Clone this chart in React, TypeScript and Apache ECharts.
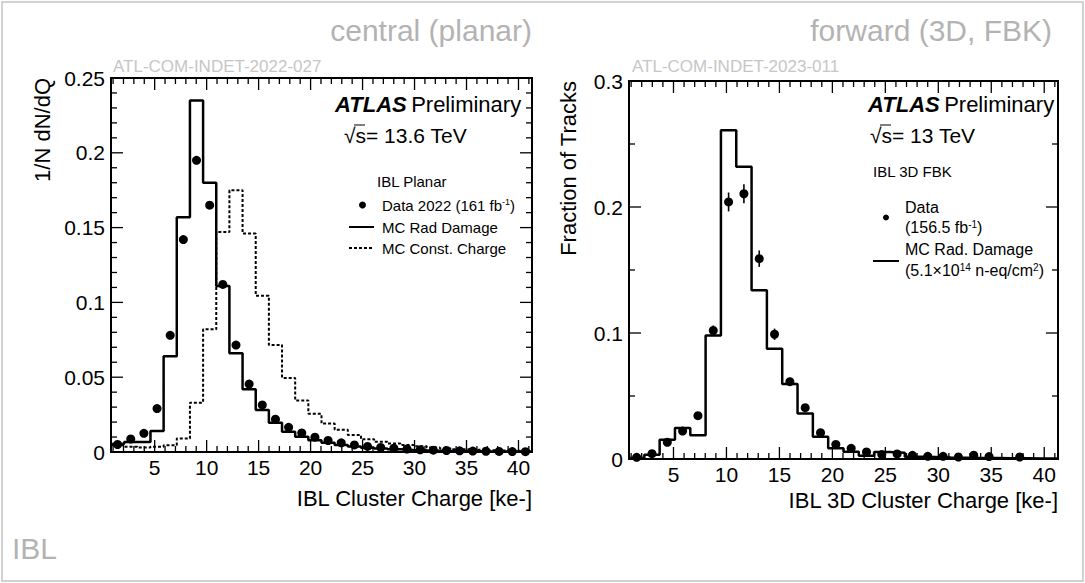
import { useEffect, useRef } from "react";
import * as echarts from "echarts";

const FONT = "'Liberation Sans', Arial, Helvetica, sans-serif";
const X_MIN = 0.8;
const X_MAX = 41.3;

// ---- Left panel: IBL planar (32 bins) ----
const planarData = [0.005, 0.0087, 0.0125, 0.029, 0.078, 0.142, 0.195, 0.165, 0.112, 0.0715, 0.0454, 0.0315, 0.0219, 0.0165, 0.0127, 0.0099, 0.0077, 0.0061, 0.0047, 0.0037, 0.003, 0.0025, 0.002, 0.0015, 0.0012, 0.001, 0.0008, 0.0006, 0.0005, 0.0004, 0.0003, 0.0002];
const planarMcRad = [0.0054, 0.0067, 0.0067, 0.014, 0.064, 0.157, 0.235, 0.18, 0.111, 0.066, 0.042, 0.028, 0.0195, 0.0136, 0.0102, 0.0078, 0.0062, 0.0047, 0.0037, 0.0029, 0.0023, 0.0018, 0.0014, 0.0011, 0.0009, 0.0007, 0.0006, 0.0005, 0.0004, 0.0003, 0.0003, 0.0002];
const planarMcConst = [0.0045, 0.0035, 0.003, 0.0035, 0.0045, 0.009, 0.033, 0.082, 0.147, 0.175, 0.146, 0.1045, 0.0715, 0.0495, 0.0345, 0.0255, 0.019, 0.0148, 0.0114, 0.0085, 0.0068, 0.0056, 0.0046, 0.0038, 0.003, 0.0024, 0.0019, 0.0015, 0.0012, 0.001, 0.0008, 0.0006];

// ---- Right panel: IBL 3D FBK (28 bins) ----
const fbkData = [0.0013, 0.0042, 0.0133, 0.0222, 0.0344, 0.102, 0.204, 0.2105, 0.159, 0.099, 0.0614, 0.0407, 0.0209, 0.0115, 0.0085, 0.0056, 0.0035, 0.004, 0.0029, 0.0021, 0.0021, 0.0016, 0.003, 0.0019, null, 0.0016, null, null];
const fbkDataErr = [0, 0, 0.001, 0.0015, 0.002, 0.004, 0.0075, 0.0075, 0.0065, 0.0045, 0.003, 0.002, 0.0015, 0.001, 0.001, 0, 0, 0, 0, 0, 0, 0, 0, 0, 0, 0, 0, 0];
const fbkMcRad = [0.0008, 0.0034, 0.0153, 0.0246, 0.0188, 0.098, 0.261, 0.232, 0.134, 0.0875, 0.0595, 0.0362, 0.0177, 0.0085, 0.0058, 0.0025, 0.0055, 0.005, 0.0018, 0.0015, 0.0012, 0.001, 0.0008, 0.0007, 0.0006, 0.0005, 0.0004, 0.0004];

// ---- Ticks / labels ----
const xTickLabels = [5, 10, 15, 20, 25, 30, 35, 40];
const xMinorTicks = [1, 2, 3, 4, 6, 7, 8, 9, 11, 12, 13, 14, 16, 17, 18, 19, 21, 22, 23, 24, 26, 27, 28, 29, 31, 32, 33, 34, 36, 37, 38, 39, 41];
const planarYMajor = [0, 0.05, 0.1, 0.15, 0.2, 0.25];
const planarYMinor = [0.01, 0.02, 0.03, 0.04, 0.06, 0.07, 0.08, 0.09, 0.11, 0.12, 0.13, 0.14, 0.16, 0.17, 0.18, 0.19, 0.21, 0.22, 0.23, 0.24];
const fbkYMajor = [0, 0.1, 0.2, 0.3];
const fbkYMinor = [0.05, 0.15, 0.25];

function binEdges(n: number) {
  const w = (X_MAX - X_MIN) / n;
  return Array.from({ length: n + 1 }, (_, i) => X_MIN + i * w);
}
function stepData(vals: number[]) {
  const e = binEdges(vals.length);
  const d: number[][] = vals.map((v, i) => [e[i], v]);
  d.push([e[vals.length], vals[vals.length - 1]]);
  return d;
}
function pointData(vals: (number | null)[], errs?: number[]) {
  const e = binEdges(vals.length);
  const out: number[][] = [];
  vals.forEach((v, i) => {
    if (v != null) out.push([(e[i] + e[i + 1]) / 2, v, errs ? errs[i] : 0]);
  });
  return out;
}

function tickSeries(idx: number, yMajor: number[], yMinor: number[]) {
  const data = [
    ...xMinorTicks.map((v) => [v, 0, 0, 0]),
    ...xTickLabels.map((v) => [v, 0, 0, 1]),
    ...yMinor.map((v) => [X_MIN, v, 1, 0]),
    ...yMajor.map((v) => [X_MIN, v, 1, 1]),
  ];
  return {
    type: "custom",
    xAxisIndex: idx,
    yAxisIndex: idx,
    silent: true,
    clip: false,
    z: 5,
    data,
    renderItem: (params: any, api: any) => {
      const cs = params.coordSys;
      const isY = api.value(2) === 1;
      const major = api.value(3) === 1;
      const len = major ? 12 : 6;
      const pt = api.coord([api.value(0), api.value(1)]);
      const style = { stroke: "#000", lineWidth: 1.3 };
      if (!isY) {
        const b = cs.y + cs.height;
        const t = cs.y;
        const children: any[] = [
          { type: "line", shape: { x1: pt[0], y1: b, x2: pt[0], y2: b - len }, style },
          { type: "line", shape: { x1: pt[0], y1: t, x2: pt[0], y2: t + len }, style },
        ];
        if (major) {
          children.push({
            type: "text",
            x: pt[0],
            y: b + 15,
            style: { text: String(api.value(0)), fontFamily: FONT, fontSize: 21, fill: "#000", align: "center", verticalAlign: "middle" },
          });
        }
        return { type: "group", children };
      }
      const l = cs.x;
      const r = cs.x + cs.width;
      return {
        type: "group",
        children: [
          { type: "line", shape: { x1: l, y1: pt[1], x2: l + len, y2: pt[1] }, style },
          { type: "line", shape: { x1: r, y1: pt[1], x2: r - len, y2: pt[1] }, style },
        ],
      };
    },
  };
}

function errSeries(idx: number, data: number[][]) {
  return {
    type: "custom",
    xAxisIndex: idx,
    yAxisIndex: idx,
    silent: true,
    z: 6,
    data,
    renderItem: (params: any, api: any) => {
      const x = api.value(0);
      const y = api.value(1);
      const e = api.value(2);
      const p1 = api.coord([x, y - e]);
      const p2 = api.coord([x, y + e]);
      return {
        type: "line",
        shape: { x1: p1[0], y1: p1[1], x2: p2[0], y2: p2[1] },
        style: { stroke: "#000", lineWidth: 1.6 },
      };
    },
  };
}

const gray = "#b3b3b3";
const lightGray = "#c6c6c6";

function txt(x: number, y: number, text: string, opts: any = {}) {
  return {
    type: "text",
    x,
    y,
    rotation: opts.rotation || 0,
    silent: true,
    style: {
      text,
      fontFamily: FONT,
      fontSize: opts.fontSize || 16,
      fill: opts.fill || "#000",
      align: opts.align || "left",
      verticalAlign: "middle",
      rich: opts.rich,
    },
  };
}

function supRich(size: number) {
  return {
    a: { fontFamily: FONT, fontSize: size, fill: "#000" },
    s: { fontFamily: FONT, fontSize: Math.round(size * 0.62), fill: "#000", verticalAlign: "top" },
  };
}

const atlasRich = {
  b: { fontFamily: FONT, fontSize: 22, fontWeight: "bold", fontStyle: "italic", fill: "#000" },
  n: { fontFamily: FONT, fontSize: 22, fill: "#000" },
};

function sqrtS(x: number, y: number, text: string) {
  return [
    txt(x, y, text, { fontSize: 21 }),
    { type: "line", silent: true, shape: { x1: x + 10, y1: y - 10, x2: x + 21, y2: y - 10 }, style: { stroke: "#000", lineWidth: 1 } },
  ];
}

export default function App() {
  const ref = useRef<HTMLDivElement>(null);
  useEffect(() => {
    if (!ref.current) return;
    const chart = echarts.init(ref.current, undefined, { renderer: "svg" });
    const xAxisBase = (idx: number) => ({
      gridIndex: idx,
      type: "value",
      min: X_MIN,
      max: X_MAX,
      axisLine: { show: false },
      axisTick: { show: false },
      splitLine: { show: false },
      axisLabel: { show: false },
    });
    const yAxisBase = (idx: number, max: number, interval: number) => ({
      gridIndex: idx,
      type: "value",
      min: 0,
      max,
      interval,
      axisLine: { show: false },
      axisTick: { show: false },
      splitLine: { show: false },
      axisLabel: { fontSize: 21, fontFamily: FONT, color: "#000", margin: 6 },
    });

    const option: any = {
      animation: false,
      backgroundColor: "#fff",
      grid: [
        { left: 111, top: 78, width: 421, height: 374, show: true, borderColor: "#000", borderWidth: 2, backgroundColor: "transparent" },
        { left: 629, top: 81, width: 429, height: 378, show: true, borderColor: "#000", borderWidth: 2, backgroundColor: "transparent" },
      ],
      xAxis: [xAxisBase(0), xAxisBase(1)],
      yAxis: [yAxisBase(0, 0.25, 0.05), yAxisBase(1, 0.3, 0.1)],
      series: [
        {
          type: "line", xAxisIndex: 0, yAxisIndex: 0, step: "end", showSymbol: false, silent: true,
          data: stepData(planarMcConst),
          lineStyle: { color: "#000", width: 2, type: [3, 2] },
        },
        {
          type: "line", xAxisIndex: 0, yAxisIndex: 0, step: "end", showSymbol: false, silent: true,
          data: stepData(planarMcRad),
          lineStyle: { color: "#000", width: 2.5 },
        },
        {
          type: "scatter", xAxisIndex: 0, yAxisIndex: 0, symbolSize: 9, silent: true,
          itemStyle: { color: "#000", opacity: 1 },
          data: pointData(planarData),
          z: 7,
        },
        {
          type: "line", xAxisIndex: 1, yAxisIndex: 1, step: "end", showSymbol: false, silent: true,
          data: stepData(fbkMcRad),
          lineStyle: { color: "#000", width: 2.5 },
        },
        errSeries(1, pointData(fbkData, fbkDataErr)),
        {
          type: "scatter", xAxisIndex: 1, yAxisIndex: 1, symbolSize: 9, silent: true,
          itemStyle: { color: "#000", opacity: 1 },
          data: pointData(fbkData, fbkDataErr),
          z: 7,
        },
        tickSeries(0, planarYMajor, planarYMinor),
        tickSeries(1, fbkYMajor, fbkYMinor),
      ],
      graphic: [
        { type: "rect", silent: true, shape: { x: 2, y: 2, width: 1081, height: 579 }, style: { fill: "none", stroke: "#d2d2d2", lineWidth: 2 } },
        txt(532, 30, "central (planar)", { fontSize: 30, fill: gray, align: "right" }),
        txt(1052, 30, "forward (3D, FBK)", { fontSize: 30, fill: gray, align: "right" }),
        txt(113, 66, "ATL-COM-INDET-2022-027", { fontSize: 17, fill: lightGray }),
        txt(632, 66, "ATL-COM-INDET-2023-011", { fontSize: 17, fill: lightGray }),
        txt(12, 548, "IBL", { fontSize: 30, fill: gray }),
        // axis titles
        txt(42, 78, "1/N dN/dQ", { fontSize: 22, align: "right", rotation: Math.PI / 2 }),
        txt(568, 81, "Fraction of Tracks", { fontSize: 22, align: "right", rotation: Math.PI / 2 }),
        txt(532, 498, "IBL Cluster Charge [ke-]", { fontSize: 22, align: "right" }),
        txt(1058, 500, "IBL 3D Cluster Charge [ke-]", { fontSize: 22, align: "right" }),
        // left panel labels
        txt(335, 104, "{b|ATLAS} {n|Preliminary}", { rich: atlasRich }),
        ...sqrtS(344, 135, "√s= 13.6 TeV"),
        txt(377, 181, "IBL Planar", { fontSize: 15 }),
        { type: "circle", silent: true, shape: { cx: 362.5, cy: 205, r: 3.5 }, style: { fill: "#000" } },
        txt(382, 205, "{a|Data 2022 (161 fb}{s|-1}{a|)}", { rich: supRich(15) }),
        { type: "line", silent: true, shape: { x1: 349, y1: 227, x2: 374, y2: 227 }, style: { stroke: "#000", lineWidth: 2 } },
        txt(382, 227, "MC Rad Damage", { fontSize: 15 }),
        { type: "line", silent: true, shape: { x1: 349, y1: 248, x2: 374, y2: 248 }, style: { stroke: "#000", lineWidth: 2, lineDash: [3, 2] } },
        txt(382, 248, "MC Const. Charge", { fontSize: 15 }),
        // right panel labels
        txt(868, 104, "{b|ATLAS} {n|Preliminary}", { rich: atlasRich }),
        ...sqrtS(870, 135, "√s= 13 TeV"),
        txt(873, 171, "IBL 3D FBK", { fontSize: 15 }),
        { type: "circle", silent: true, shape: { cx: 886, cy: 217.5, r: 3 }, style: { fill: "#000" } },
        txt(905, 207, "Data", { fontSize: 16 }),
        txt(905, 227, "{a|(156.5 fb}{s|-1}{a|)}", { rich: supRich(16) }),
        { type: "line", silent: true, shape: { x1: 873, y1: 261, x2: 899, y2: 261 }, style: { stroke: "#000", lineWidth: 2 } },
        txt(905, 249, "MC Rad. Damage", { fontSize: 16 }),
        txt(905, 270, "{a|(5.1×10}{s|14}{a| n-eq/cm}{s|2}{a|)}", { rich: supRich(16) }),
      ],
    };
    chart.setOption(option);
    return () => chart.dispose();
  }, []);
  return <div ref={ref} style={{ position: "fixed", left: 0, top: 0, width: 1085, height: 583, background: "#fff" }} />;
}
